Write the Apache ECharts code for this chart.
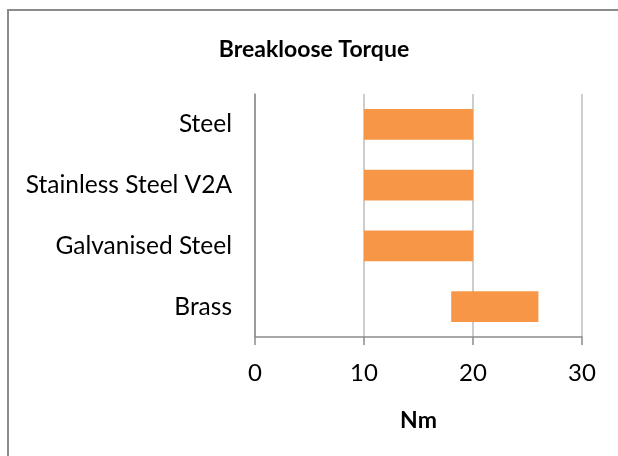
<!DOCTYPE html>
<html>
<head>
<meta charset="utf-8">
<script src="https://cdn.jsdelivr.net/npm/echarts@6/dist/echarts.min.js"></script>
<style>
  html, body { margin: 0; padding: 0; background: #fff; overflow: hidden; }
  #frame { position: absolute; left: 7px; top: 9px; width: 620px; height: 460px; border-left: 2px solid #8c8c8c; border-top: 2px solid #8c8c8c; box-sizing: border-box; }
  #main { position: absolute; left: 0; top: 0; width: 618px; height: 456px; }
</style>
</head>
<body>
<div id="frame"></div>
<div id="main"></div>
<script>
var materials = ['Steel', 'Stainless Steel V2A', 'Galvanised Steel', 'Brass'];
var torqueMin = [10, 10, 10, 18];
var torqueMax = [20, 20, 20, 26];
var xTicks = [0, 10, 20, 30];

var chart = echarts.init(document.getElementById('main'));
var span = torqueMax.map(function (v, i) { return v - torqueMin[i]; });

chart.setOption({
    animation: false,
    textStyle: { fontFamily: 'Lato' },
    title: {
        text: 'Breakloose Torque',
        left: 309,
        top: 33,
        textAlign: 'center',
        textStyle: { fontFamily: 'Lato', fontSize: 23, fontWeight: 'bold', color: '#000' }
    },
    grid: { left: 255, right: 36, top: 94, bottom: 119 },
    xAxis: {
        type: 'value',
        min: xTicks[0],
        max: xTicks[xTicks.length - 1],
        interval: 10,
        name: 'Nm',
        nameLocation: 'middle',
        nameGap: 72,
        nameTextStyle: { fontFamily: 'Lato', fontSize: 23, fontWeight: 'bold', color: '#000' },
        axisLine: { show: true, lineStyle: { color: '#8c8c8c', width: 1.5 } },
        axisTick: { show: true, length: 8, lineStyle: { color: '#8c8c8c', width: 1.5 } },
        axisLabel: { margin: 24, fontFamily: 'Lato', fontSize: 24, color: '#000' },
        splitLine: { show: true, lineStyle: { color: '#bdbdbd', width: 1.5 } }
    },
    yAxis: {
        type: 'category',
        data: materials,
        inverse: true,
        axisLine: { show: true, lineStyle: { color: '#8c8c8c', width: 1.5 } },
        axisTick: { show: false },
        axisLabel: { margin: 23, fontFamily: 'Lato', fontSize: 24.5, color: '#000' }
    },
    series: [
        {
            type: 'bar',
            stack: 'range',
            data: torqueMin,
            itemStyle: { color: 'transparent' },
            barWidth: '51%',
            silent: true
        },
        {
            type: 'bar',
            stack: 'range',
            data: span,
            itemStyle: { color: '#F79646' },
            barWidth: '51%'
        }
    ]
});
</script>
</body>
</html>
